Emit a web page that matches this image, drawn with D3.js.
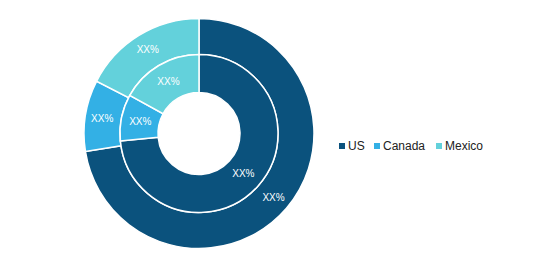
<!DOCTYPE html>
<html>
<head>
<meta charset="utf-8">
<script src="https://cdn.jsdelivr.net/npm/d3@7"></script>
<style>
  body { margin: 0; background: #fff; }
  svg text { font-family: "Liberation Sans", Arial, sans-serif; }
</style>
</head>
<body>
<svg width="542" height="268"></svg>
<script>
const svg = d3.select('svg');

// data
const categories = ['US', 'Canada', 'Mexico'];
const outerValues = [72.5, 10, 17.5];
const innerValues = [73.5, 9.5, 17];
const sliceLabels = ['XX%', 'XX%', 'XX%'];
const colors = ['#0b527d', '#33b0e5', '#63d1db'];

const cx = 199, cy = 133.5;

const color = d3.scaleOrdinal().domain(categories).range(colors);

const pie = d3.pie().sort(null).value(d => d.value);

const g = svg.append('g')
    .attr('transform', `translate(${cx}, ${cy})`);

const rings = [
    { values: outerValues, inner: 79, outer: 115, labelR: 98 },
    { values: innerValues, inner: 41, outer: 79, labelR: 60 }
];

rings.forEach(ring => {
    const data = categories.map((c, i) => ({ key: c, value: ring.values[i], label: sliceLabels[i] }));
    const arcs = pie(data);
    const arc = d3.arc().innerRadius(ring.inner).outerRadius(ring.outer);
    const labelArc = d3.arc().innerRadius(ring.labelR).outerRadius(ring.labelR);

    const rg = g.append('g');
    rg.selectAll('path').data(arcs)
        .enter().append('path')
        .attr('d', arc)
        .attr('fill', d => color(d.data.key))
        .attr('stroke', '#fff')
        .attr('stroke-width', 1.5);

    rg.selectAll('text').data(arcs)
        .enter().append('text')
        .attr('transform', d => `translate(${labelArc.centroid(d)})`)
        .attr('text-anchor', 'middle')
        .attr('dy', '0.35em')
        .attr('fill', '#fff')
        .style('font-size', '10px')
        .text(d => d.data.label);
});

// legend
const legendX = [339, 374, 436];
const legend = svg.append('g').attr('transform', 'translate(0, 146)');
const items = legend.selectAll('g').data(categories)
    .enter().append('g')
    .attr('transform', (d, i) => `translate(${legendX[i]}, 0)`);

items.append('rect')
    .attr('x', 0)
    .attr('y', -3)
    .attr('width', 6)
    .attr('height', 6)
    .attr('fill', d => color(d));

items.append('text')
    .attr('x', 9)
    .attr('dy', '0.35em')
    .attr('fill', '#222')
    .style('font-size', '12px')
    .text(d => d);
</script>
</body>
</html>
